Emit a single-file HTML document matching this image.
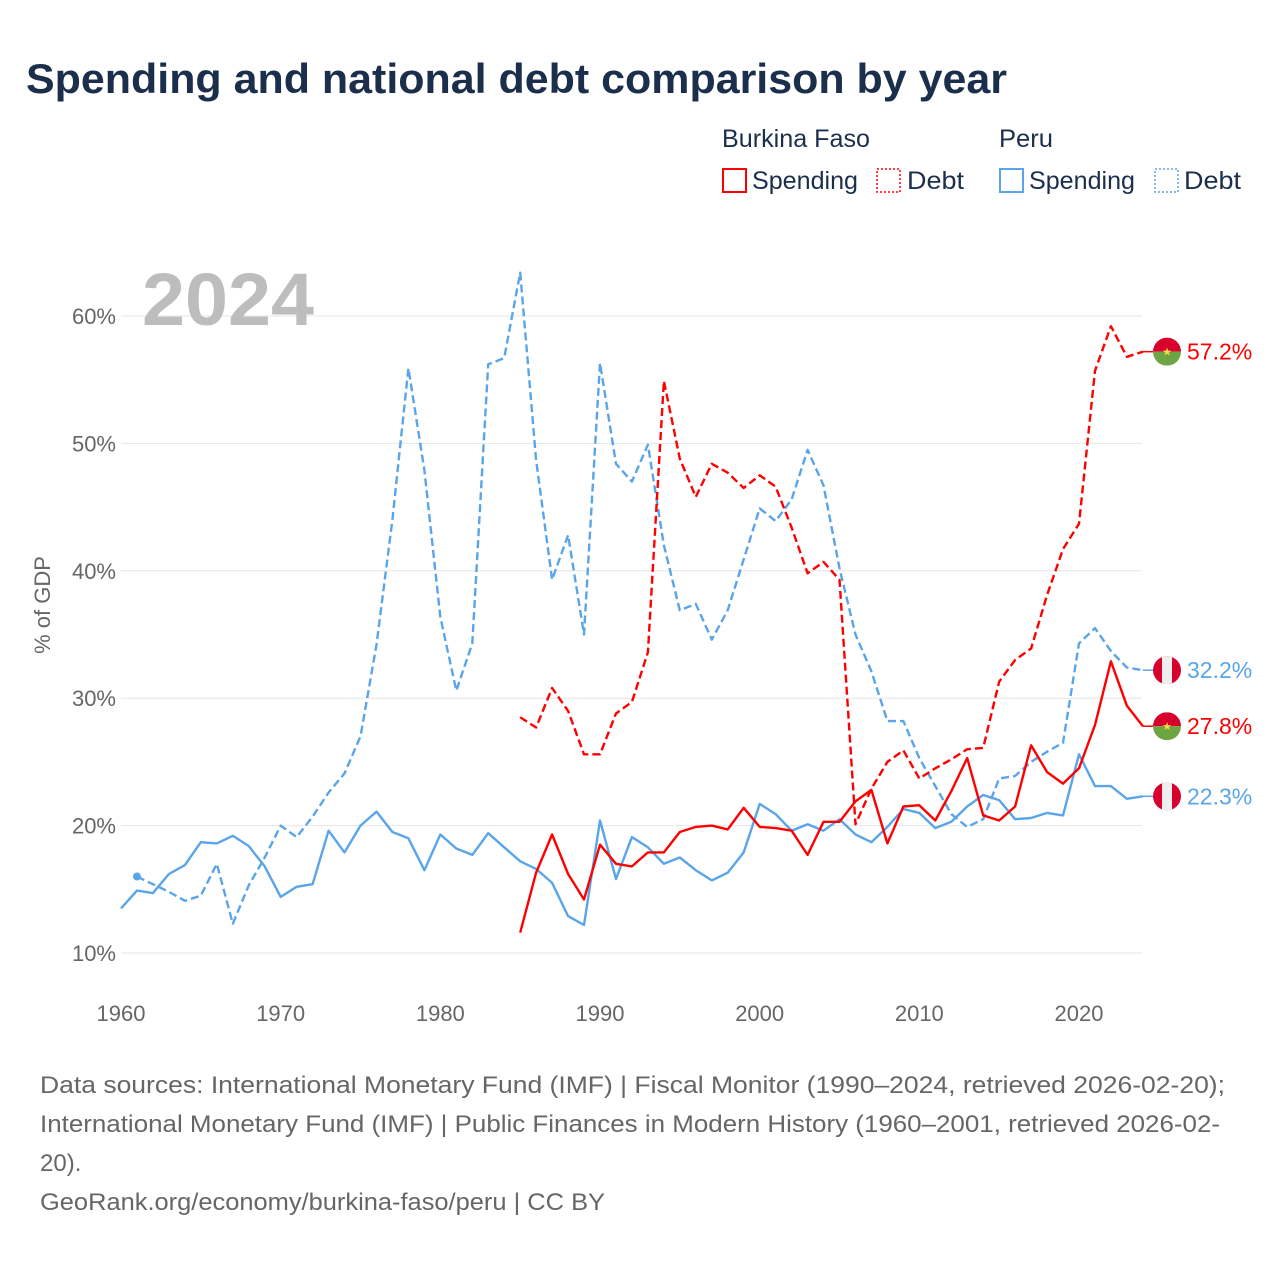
<!DOCTYPE html>
<html><head><meta charset="utf-8"><style>
body{margin:0;background:#fff;font-family:"Liberation Sans",sans-serif;}
#wrap{position:relative;width:1280px;height:1280px;overflow:hidden;}
</style></head><body>
<div id="wrap">
<svg id="chart" width="1280" height="1280" style="font-family:'Liberation Sans',sans-serif">
<text x="26" y="93" font-size="42" font-weight="bold" fill="#1b2f4d" textLength="981" lengthAdjust="spacingAndGlyphs">Spending and national debt comparison by year</text>
<g font-size="25" fill="#1b2f4d">
<text x="722" y="147" textLength="148" lengthAdjust="spacingAndGlyphs">Burkina Faso</text>
<text x="999" y="147" textLength="54" lengthAdjust="spacingAndGlyphs">Peru</text>
<g><rect x="723" y="169" width="23" height="23" fill="none" stroke="#f00" stroke-width="2"/><text x="752" y="189" textLength="106" lengthAdjust="spacingAndGlyphs">Spending</text></g>
<g><rect x="877" y="169" width="23" height="23" fill="none" stroke="#f00" stroke-width="1.5" stroke-dasharray="2,2"/><text x="907" y="189" textLength="57" lengthAdjust="spacingAndGlyphs">Debt</text></g>
<g><rect x="1000" y="169" width="23" height="23" fill="none" stroke="#5aa5ea" stroke-width="2"/><text x="1029" y="189" textLength="106" lengthAdjust="spacingAndGlyphs">Spending</text></g>
<g><rect x="1155" y="169" width="23" height="23" fill="none" stroke="#5aa5ea" stroke-width="1.5" stroke-dasharray="2,2"/><text x="1184" y="189" textLength="57" lengthAdjust="spacingAndGlyphs">Debt</text></g>
</g>
<g id="grid"></g>
<text x="142" y="325" font-size="74" font-weight="bold" fill="#bdbdbd" textLength="172" lengthAdjust="spacingAndGlyphs">2024</text>
<text transform="translate(50,605) rotate(-90)" text-anchor="middle" font-size="22" fill="#666">% of GDP</text>
<g id="series"></g>
<g id="ends"></g>
<g font-size="24" fill="#666">
<text x="40" y="1093" textLength="1185" lengthAdjust="spacingAndGlyphs">Data sources: International Monetary Fund (IMF) | Fiscal Monitor (1990–2024, retrieved 2026-02-20);</text>
<text x="40" y="1132" textLength="1180" lengthAdjust="spacingAndGlyphs">International Monetary Fund (IMF) | Public Finances in Modern History (1960–2001, retrieved 2026-02-</text>
<text x="40" y="1171">20).</text>
<text x="40" y="1210" textLength="565" lengthAdjust="spacingAndGlyphs">GeoRank.org/economy/burkina-faso/peru | CC BY</text>
</g>
</svg>
</div>
<script>
const yTicks=[10,20,30,40,50,60];
const xTicks=[1960,1970,1980,1990,2000,2010,2020];
const peruSpendStart=1960;
const peruSpending=[13.5,14.9,14.7,16.2,16.9,18.7,18.6,19.2,18.4,16.8,14.4,15.2,15.4,19.6,17.9,20.0,21.1,19.5,19.0,16.5,19.3,18.2,17.7,19.4,18.3,17.2,16.6,15.5,12.9,12.2,20.4,15.8,19.1,18.3,17.0,17.5,16.5,15.7,16.3,17.9,21.7,20.9,19.6,20.1,19.6,20.5,19.3,18.7,19.9,21.3,21.0,19.8,20.3,21.5,22.4,22.0,20.5,20.6,21.0,20.8,25.6,23.1,23.1,22.1,22.3];
const peruDebtStart=1961;
const peruDebt=[16.0,15.4,14.8,14.1,14.5,17.0,12.3,15.3,17.5,20.0,19.1,20.7,22.6,24.1,27.0,34.2,44.0,55.9,47.9,36.4,30.6,34.3,56.2,56.7,63.4,48.7,39.3,42.8,35.0,56.3,48.4,47.0,49.9,42.0,36.9,37.4,34.6,36.9,40.9,44.9,43.9,45.6,49.5,46.7,40.2,35.0,32.1,28.2,28.2,25.3,23.1,20.9,19.9,20.5,23.7,23.9,25.0,25.8,26.5,34.3,35.5,33.7,32.4,32.2];
const bfStart=1985;
const bfSpending=[11.6,16.3,19.3,16.2,14.2,18.5,17.0,16.8,17.9,17.9,19.5,19.9,20.0,19.7,21.4,19.9,19.8,19.6,17.7,20.3,20.3,21.9,22.8,18.6,21.5,21.6,20.4,22.7,25.3,20.8,20.4,21.5,26.3,24.2,23.3,24.5,27.9,32.9,29.4,27.8];
const bfDebt=[28.5,27.7,30.8,29.0,25.6,25.6,28.8,29.7,33.6,54.9,48.8,45.8,48.4,47.7,46.5,47.5,46.6,43.4,39.8,40.7,39.3,20.1,22.9,25.0,25.9,23.7,24.5,25.2,26.0,26.1,31.3,33.0,33.9,38.1,41.7,43.7,55.7,59.2,56.8,57.2];
const NS='http://www.w3.org/2000/svg';
function xS(yr){return 121+(yr-1960)*(1079-121)/60;}
function yS(v){return 953-(v-10)*(953-316)/50;}
function mk(tag,attrs,parent){const e=document.createElementNS(NS,tag);for(const k in attrs)e.setAttribute(k,attrs[k]);parent.appendChild(e);return e;}
const grid=document.getElementById('grid');
yTicks.forEach(t=>{
  const l=mk('line',{x1:121,x2:1142,y1:yS(t),y2:yS(t),stroke:'#e6e6e6','stroke-width':1},grid);
  
  
  const tx=mk('text',{x:116,y:yS(t)+8,'text-anchor':'end','font-size':22,fill:'#666'},grid);
  tx.textContent=t+'%';
  
  
});
xTicks.forEach(t=>{
  const tx=mk('text',{x:xS(t),y:1021,'text-anchor':'middle','font-size':22,fill:'#666'},grid);
  tx.textContent=t;
  
  
});
const ser=document.getElementById('series');
function line(vals,start,color,dash,name){
  const d=vals.map((v,i)=>(i?'L':'M')+xS(start+i).toFixed(1)+','+yS(v).toFixed(1)).join(' ');
  const p=mk('path',{d:d,fill:'none',stroke:color,'stroke-width':2.4,'stroke-linejoin':'round'},ser);
  if(dash)p.setAttribute('stroke-dasharray','8,4');
  
  
}
line(peruDebt,peruDebtStart,'#5aa5ea',true,'line-peru-debt');
line(peruSpending,peruSpendStart,'#5aa5ea',false,'line-peru-spending');
line(bfDebt,bfStart,'#ff0000',true,'line-burkina-debt');
line(bfSpending,bfStart,'#ff0000',false,'line-burkina-spending');
const dot=mk('circle',{cx:xS(peruDebtStart),cy:yS(peruDebt[0]),r:4,fill:'#5aa5ea'},ser);


const ends=document.getElementById('ends');
function endLabel(vals,start,color,flag,name){
  const v=vals[vals.length-1];const yr=start+vals.length-1;
  const y=yS(v),x=1167;
  const g=mk('g',{},ends);
  
  
  mk('line',{x1:xS(yr),x2:x-14,y1:y,y2:y,stroke:color,'stroke-width':1.5},g);
  const cid='c'+name;
  const cp=mk('clipPath',{id:cid},g);mk('circle',{cx:x,cy:y,r:14},cp);
  const fg=mk('g',{'clip-path':'url(#'+cid+')'},g);
  if(flag==='bf'){
    mk('rect',{x:x-14,y:y-14,width:28,height:14,fill:'#d8002d'},fg);
    mk('rect',{x:x-14,y:y,width:28,height:14,fill:'#6da544'},fg);
    const st=mk('text',{x:x,y:y+4,'text-anchor':'middle','font-size':11,fill:'#ffda44'},fg);st.textContent='★';
  }else{
    mk('rect',{x:x-14,y:y-14,width:28,height:28,fill:'#d8002d'},fg);
    mk('rect',{x:x-5,y:y-14,width:10,height:28,fill:'#eeeeee'},fg);
  }
  const t=mk('text',{x:1187,y:y+8,'font-size':23,fill:color},g);
  t.textContent=v.toFixed(1)+'%';
}
endLabel(bfDebt,bfStart,'#ff0000','bf','end-label-burkina-debt');
endLabel(peruDebt,peruDebtStart,'#5aa5ea','pe','end-label-peru-debt');
endLabel(bfSpending,bfStart,'#ff0000','bf','end-label-burkina-spending');
endLabel(peruSpending,peruSpendStart,'#5aa5ea','pe','end-label-peru-spending');
</script>
</body></html>
